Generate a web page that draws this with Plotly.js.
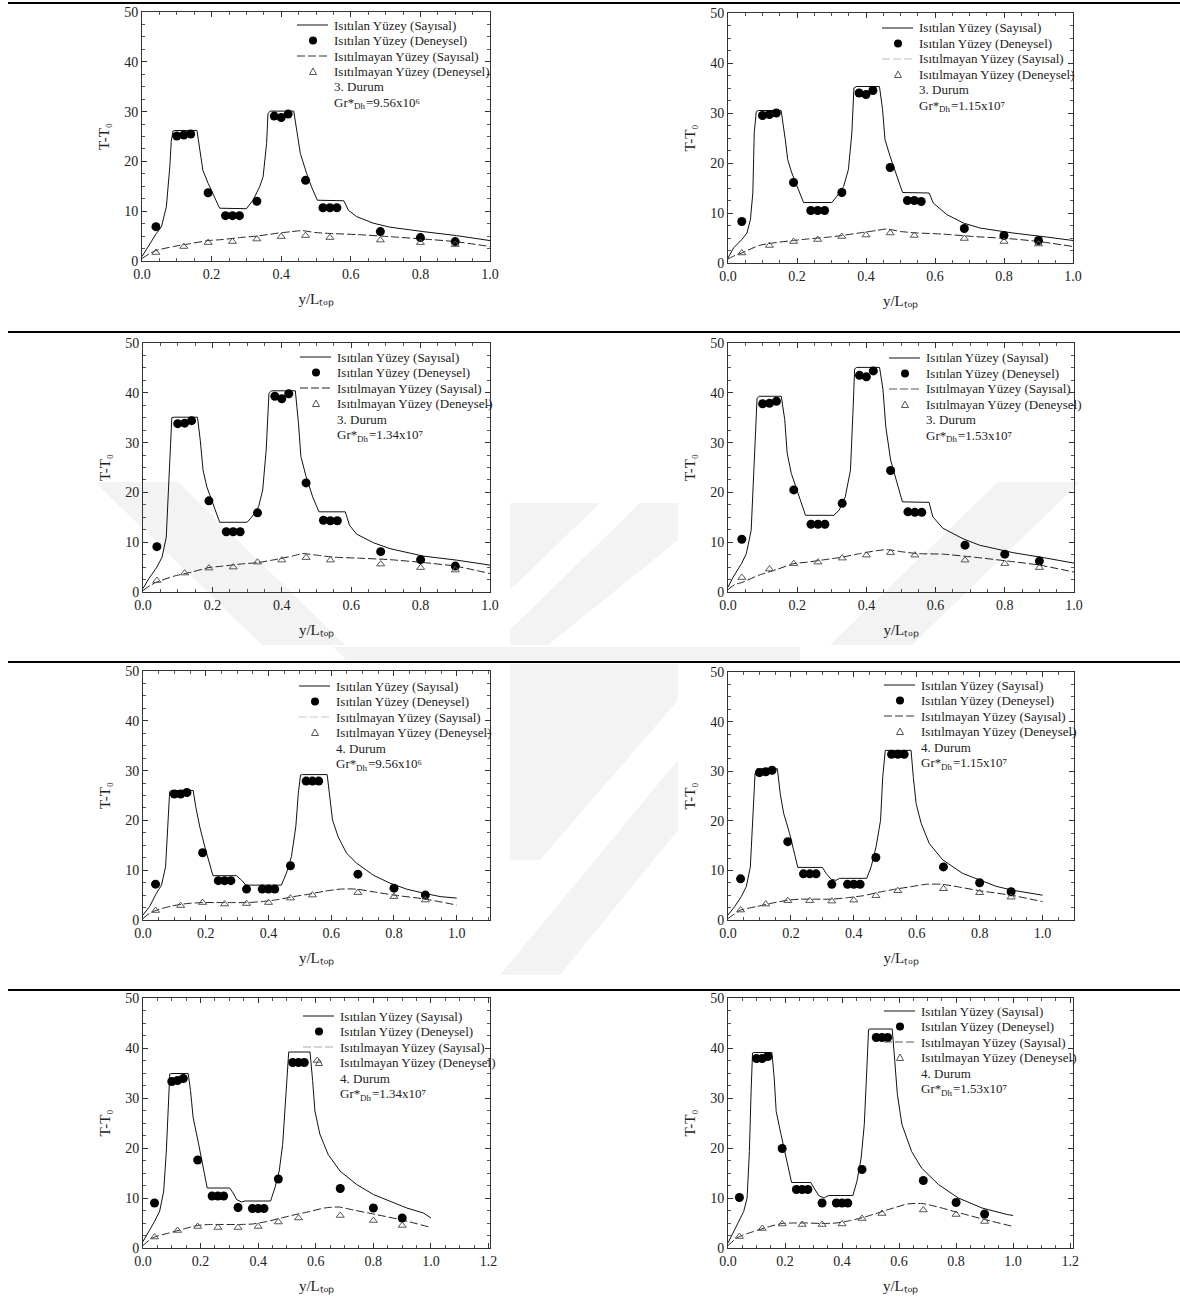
<!DOCTYPE html>
<html><head><meta charset="utf-8">
<script src="https://cdn.plot.ly/plotly-3.0.1.min.js"></script>
<style>html,body{margin:0;padding:0;background:#fff}#chart{width:1180px;height:1300px}</style>
</head><body><div id="chart"></div>
<script>
// ---- data ----
// measurement stations along the heated wall (y/L_top)
const xHeatedExp = [0.04, 0.10, 0.12, 0.14, 0.19, 0.24, 0.26, 0.28, 0.33, 0.38, 0.40, 0.42, 0.47, 0.52, 0.54, 0.56, 0.685, 0.80, 0.90];
// measurement stations along the unheated wall
const xUnheatedExp = [0.04, 0.12, 0.19, 0.26, 0.33, 0.40, 0.47, 0.54, 0.685, 0.80, 0.90];
// numerical solution abscissae, unheated wall
const xUnheatedNum3 = [0, 0.02, 0.04, 0.09, 0.14, 0.19, 0.23, 0.28, 0.33, 0.38, 0.43, 0.46, 0.50, 0.55, 0.62, 0.71, 0.81, 0.90, 1.0];
const xUnheatedNum4 = [0, 0.02, 0.04, 0.09, 0.14, 0.19, 0.23, 0.28, 0.33, 0.38, 0.43, 0.48, 0.53, 0.58, 0.63, 0.68, 0.73, 0.80, 0.90, 1.0];

// heated wall, numerical (x, T-T0) for each case
const heatX1 = [0, 0.017, 0.041, 0.056, 0.07, 0.08, 0.084, 0.089, 0.095, 0.158, 0.166, 0.175, 0.19, 0.223, 0.30, 0.319, 0.338, 0.348, 0.358, 0.362, 0.368, 0.436, 0.449, 0.455, 0.473, 0.487, 0.504, 0.58, 0.593, 0.617, 0.664, 0.712, 0.808, 0.904, 1.0];
const heatY1 = [0.9, 2.9, 5.5, 6.9, 10.9, 19, 24, 26.1, 26.2, 26.2, 22.3, 18.2, 15.6, 10.6, 10.5, 12.2, 14.9, 16.9, 23.6, 29.6, 30.1, 30.1, 24.3, 21.6, 17.6, 14.9, 12.2, 12.1, 10.2, 8.9, 7.6, 6.8, 5.9, 5.1, 4.1];
const heatX2 = [0, 0.016, 0.04, 0.055, 0.065, 0.072, 0.076, 0.082, 0.088, 0.154, 0.166, 0.173, 0.185, 0.219, 0.301, 0.315, 0.335, 0.349, 0.359, 0.365, 0.372, 0.439, 0.448, 0.455, 0.47, 0.489, 0.506, 0.583, 0.595, 0.634, 0.682, 0.73, 0.826, 0.923, 1.0];
const heatY2 = [1.0, 3, 4.7, 6, 8.7, 14, 26, 30.3, 30.5, 30.5, 24.7, 20.7, 18, 12.1, 12.1, 13.3, 15.3, 18.7, 26, 35, 35.3, 35.3, 30.7, 24.7, 21.3, 17.3, 14.1, 14.0, 12, 9.7, 8, 7, 6, 5.2, 4.5];
const heatX3 = [0, 0.017, 0.04, 0.055, 0.067, 0.074, 0.079, 0.083, 0.09, 0.157, 0.165, 0.173, 0.184, 0.221, 0.30, 0.314, 0.333, 0.345, 0.355, 0.363, 0.37, 0.439, 0.448, 0.455, 0.47, 0.489, 0.507, 0.583, 0.595, 0.616, 0.664, 0.712, 0.808, 0.904, 1.0];
const heatY3 = [0.7, 2.7, 5, 7, 11, 20.5, 29.9, 35, 35.1, 35.1, 30.5, 24.5, 21.1, 14, 14, 15.1, 17.1, 20.5, 28.5, 39.9, 40.4, 40.4, 33.9, 27.2, 23.2, 19.1, 16.1, 16.1, 13.4, 11.6, 9.9, 8.7, 7.2, 6.4, 5.4];
const heatX4 = [0, 0.015, 0.039, 0.053, 0.067, 0.074, 0.08, 0.084, 0.09, 0.154, 0.164, 0.171, 0.183, 0.224, 0.306, 0.321, 0.339, 0.354, 0.361, 0.366, 0.372, 0.438, 0.448, 0.456, 0.47, 0.488, 0.504, 0.581, 0.592, 0.621, 0.679, 0.727, 0.824, 0.92, 1.0];
const heatY4 = [1, 3, 5.7, 7.7, 12.4, 22.5, 33.9, 38.9, 39.3, 39.3, 34.6, 27.9, 23.8, 15.4, 15.4, 16.4, 19.1, 24.5, 35.9, 44.8, 45.1, 45.1, 40.6, 33.2, 26.5, 21.8, 18.1, 18, 15.1, 12.8, 10.7, 9.4, 7.9, 6.8, 5.8];
const heatX5 = [0, 0.021, 0.043, 0.059, 0.072, 0.08, 0.085, 0.09, 0.16, 0.168, 0.181, 0.197, 0.223, 0.298, 0.314, 0.328, 0.441, 0.457, 0.473, 0.487, 0.495, 0.502, 0.508, 0.587, 0.596, 0.604, 0.622, 0.649, 0.681, 0.734, 0.787, 0.84, 0.894, 0.947, 1.0];
const heatY5 = [1, 2.7, 5.4, 7, 10.7, 20.1, 25.8, 26, 26, 22.8, 18.7, 14.7, 8.9, 8.9, 8.0, 7.0, 7.0, 9.4, 12.7, 18.7, 25.4, 29.1, 29.2, 29.2, 24.1, 20.1, 16.7, 13.4, 11.4, 9, 7.4, 6.2, 5.4, 4.7, 4.4];
const heatX6 = [0, 0.021, 0.042, 0.058, 0.071, 0.079, 0.086, 0.092, 0.157, 0.166, 0.177, 0.196, 0.222, 0.30, 0.312, 0.328, 0.344, 0.354, 0.441, 0.455, 0.471, 0.485, 0.492, 0.50, 0.582, 0.589, 0.598, 0.614, 0.64, 0.683, 0.746, 0.799, 0.852, 0.905, 0.958, 1.0];
const heatY6 = [1, 2.7, 4.7, 6.7, 10.7, 20.1, 29.5, 30.5, 30.5, 25.5, 21.5, 17.4, 10.6, 10.6, 9.4, 8.2, 8.0, 8.4, 8.4, 10.7, 14.8, 20.1, 28.9, 34.2, 34.2, 28.9, 23.5, 19.5, 15.4, 12.1, 9.4, 8.1, 6.8, 6, 5.4, 5];
const heatX7 = [0, 0.017, 0.041, 0.058, 0.072, 0.081, 0.089, 0.093, 0.098, 0.157, 0.165, 0.174, 0.191, 0.223, 0.301, 0.313, 0.325, 0.342, 0.354, 0.443, 0.458, 0.473, 0.485, 0.493, 0.501, 0.506, 0.512, 0.58, 0.589, 0.597, 0.614, 0.643, 0.684, 0.742, 0.80, 0.858, 0.916, 0.974, 1.0];
const heatY7 = [1.3, 3, 5.4, 7.4, 11.4, 19.4, 30.8, 34.8, 34.9, 34.9, 31.5, 26.1, 21.4, 12, 12, 11, 9.7, 9.2, 9.4, 9.4, 12, 15.4, 20.7, 27.4, 34.1, 39.2, 39.2, 39.2, 33.5, 27.4, 22.8, 18.7, 15.4, 12.7, 10.7, 9.4, 8, 7, 6];
const heatX8 = [0, 0.02, 0.038, 0.055, 0.067, 0.075, 0.081, 0.086, 0.092, 0.154, 0.162, 0.169, 0.186, 0.217, 0.223, 0.29, 0.302, 0.318, 0.337, 0.352, 0.438, 0.452, 0.467, 0.478, 0.487, 0.493, 0.499, 0.576, 0.585, 0.594, 0.61, 0.644, 0.679, 0.738, 0.808, 0.891, 0.979, 1.0];
const heatY8 = [1, 3.3, 5.2, 7.3, 10, 19.3, 31.3, 39, 39.1, 39.1, 34, 27.3, 22.7, 15, 13.1, 13.1, 12, 10.5, 10, 10.5, 10.5, 13.3, 18, 24.7, 36, 43.7, 43.8, 43.8, 37.3, 30.7, 24.7, 19.3, 16, 12.7, 10, 8, 6.7, 6.5];

// unheated wall, numerical
const unheatY1 = [0.5, 1.4, 2.1, 2.9, 3.5, 4.1, 4.3, 4.7, 5.0, 5.5, 5.9, 6.1, 5.7, 5.5, 5.3, 4.9, 4.4, 3.9, 2.9];
const unheatY2 = [0.8, 1.5, 2.0, 3.5, 4.1, 4.5, 4.8, 5.1, 5.5, 6.0, 6.5, 6.8, 6.3, 6.0, 5.8, 5.3, 4.9, 4.3, 3.3];
const unheatY3 = [0.3, 1.3, 2.0, 3.2, 4.0, 4.9, 5.2, 5.6, 5.9, 6.5, 7.2, 7.7, 7.4, 7.0, 6.8, 6.5, 5.9, 5.2, 3.7];
const unheatY4 = [0.5, 1.5, 1.9, 3.4, 4.5, 5.7, 6.0, 6.5, 7.0, 7.7, 8.3, 8.5, 8.1, 7.7, 7.6, 7.0, 6.2, 5.4, 4.0];
const unheatY5 = [0.3, 1.3, 1.9, 2.8, 3.3, 3.5, 3.5, 3.5, 3.5, 3.7, 4.1, 4.7, 5.2, 5.8, 6.2, 6.2, 5.7, 5.0, 4.2, 3.0];
const unheatY6 = [0.3, 1.2, 2.0, 2.7, 3.4, 4.0, 4.2, 4.2, 4.2, 4.5, 4.9, 5.6, 6.2, 6.7, 7.2, 7.2, 6.7, 5.9, 5.0, 3.7];
const unheatY7 = [0.5, 1.5, 2.2, 3.0, 3.8, 4.5, 4.7, 4.7, 4.7, 4.8, 5.3, 6.0, 6.7, 7.3, 8.0, 8.2, 7.6, 6.8, 5.6, 4.1];
const unheatY8 = [0.5, 1.5, 2.3, 3.3, 4.2, 4.9, 5.0, 5.0, 4.9, 5.0, 5.5, 6.2, 7.1, 8.0, 8.8, 8.9, 8.3, 7.2, 5.7, 4.3];

// heated wall, experimental
const expHeat1 = [6.9, 25.1, 25.3, 25.5, 13.7, 9.1, 9.1, 9.1, 12.0, 29.1, 28.8, 29.5, 16.2, 10.7, 10.7, 10.7, 5.9, 4.7, 3.9];
const expHeat2 = [8.3, 29.5, 29.7, 30.0, 16.1, 10.5, 10.5, 10.5, 14.1, 34.0, 33.7, 34.5, 19.1, 12.5, 12.5, 12.3, 6.9, 5.5, 4.5];
const expHeat3 = [9.1, 33.8, 33.9, 34.4, 18.3, 12.1, 12.1, 12.1, 15.9, 39.3, 38.8, 39.8, 21.9, 14.4, 14.3, 14.3, 8.1, 6.5, 5.2];
const expHeat4 = [10.6, 37.8, 37.9, 38.3, 20.5, 13.6, 13.6, 13.6, 17.8, 43.5, 43.2, 44.4, 24.4, 16.1, 16.0, 16.0, 9.4, 7.6, 6.2];
const expHeat5 = [7.2, 25.3, 25.3, 25.6, 13.5, 7.9, 7.9, 7.9, 6.2, 6.2, 6.2, 6.2, 10.9, 27.9, 27.9, 27.9, 9.2, 6.4, 5.0];
const expHeat6 = [8.3, 29.7, 29.9, 30.2, 15.8, 9.3, 9.3, 9.3, 7.2, 7.2, 7.2, 7.2, 12.6, 33.4, 33.4, 33.4, 10.7, 7.5, 5.7];
const expHeat7 = [9.0, 33.3, 33.5, 33.9, 17.6, 10.4, 10.4, 10.4, 8.1, 7.9, 7.9, 7.9, 13.8, 37.1, 37.1, 37.1, 11.9, 8.0, 6.0];
const expHeat8 = [10.1, 37.9, 37.9, 38.3, 19.9, 11.7, 11.7, 11.7, 9.0, 9.0, 9.0, 9.0, 15.7, 42.1, 42.1, 42.1, 13.5, 9.1, 6.8];

// unheated wall, experimental
const expUnheat1 = [1.7, 2.9, 3.7, 3.9, 4.4, 4.9, 5.1, 4.7, 4.2, 3.7, 3.3];
const expUnheat2 = [2.0, 3.5, 4.3, 4.7, 5.3, 5.6, 6.0, 5.5, 4.9, 4.3, 3.8];
const expUnheat3 = [2.3, 3.8, 4.8, 5.0, 6.0, 6.4, 6.9, 6.4, 5.6, 4.9, 4.4];
const expUnheat4 = [2.9, 4.6, 5.7, 6.0, 6.8, 7.4, 7.9, 7.4, 6.4, 5.7, 4.9];
const expUnheat5 = [1.9, 2.9, 3.5, 3.2, 3.3, 3.5, 4.4, 5.0, 5.5, 4.7, 4.0];
const expUnheat6 = [2.0, 3.2, 3.9, 3.9, 3.8, 4.0, 4.9, 5.9, 6.3, 5.5, 4.6];
const expUnheat7 = [2.2, 3.5, 4.3, 4.1, 4.1, 4.3, 5.2, 6.0, 6.5, 5.5, 4.5];
const expUnheat8 = [2.3, 3.9, 4.8, 4.7, 4.7, 4.8, 5.9, 6.9, 7.6, 6.7, 5.3];
// stray unheated-wall reading in the 4. Durum, Gr*=1.34x10^7 set
const strayUnheatX7 = [0.605];
const strayUnheatY7 = [37.5];

const caseLabels = ['3. Durum', '3. Durum', '3. Durum', '3. Durum', '4. Durum', '4. Durum', '4. Durum', '4. Durum'];
const grValues = ['=9.56x10\u2076', '=1.15x10\u2077', '=1.34x10\u2077', '=1.53x10\u2077',
                  '=9.56x10\u2076', '=1.15x10\u2077', '=1.34x10\u2077', '=1.53x10\u2077'];
const seriesNames = ['Isıtılan Yüzey (Sayısal)', 'Isıtılan Yüzey (Deneysel)', 'Isıtılmayan Yüzey (Sayısal)', 'Isıtılmayan Yüzey (Deneysel)'];
const yTickVals = [0, 10, 20, 30, 40, 50];
const yTitle = 'T-T\u2080';
const xTitle = 'y/L\u209C\u2092\u209A';

// ---- page geometry ----
const W = 1180, H = 1300;
const FONT = 'Liberation Serif, Times New Roman, serif';
const X = px => px / W;
const Y = py => 1 - py / H;

// text width helper for composing the Gr*_Dh label
const ctx = document.createElement('canvas').getContext('2d');
function textWidth(str, size) {
  ctx.font = size + 'px "Liberation Serif", serif';
  return ctx.measureText(str).width;
}

// plot boxes [left, right, top, bottom] in pixels
const boxes = [
  [142, 490, 12, 261], [728, 1073, 13, 263],
  [143, 490, 343, 592], [728, 1074, 343, 592],
  [143, 490, 671, 920], [728, 1074, 672, 920],
  [143, 490, 998, 1248], [728, 1073, 998, 1248]
];
const xMax = [1, 1, 1, 1, 1.106, 1.10, 1.205, 1.21];
const xTickMax = [1, 1, 1, 1, 1, 1, 1.2, 1.2];
// legend anchor: left edge of legend text, centre of first row
const legendAt = [[334, 25], [919, 28], [337, 357], [926, 358], [336, 686], [921, 685], [340, 1016], [921, 1011]];
const dashSampleColor = ['#333', '#bbb', '#222', '#555', '#c8c8c8', '#333', '#aaa', '#555'];

const heatX = [heatX1, heatX2, heatX3, heatX4, heatX5, heatX6, heatX7, heatX8];
const heatY = [heatY1, heatY2, heatY3, heatY4, heatY5, heatY6, heatY7, heatY8];
const unheatY = [unheatY1, unheatY2, unheatY3, unheatY4, unheatY5, unheatY6, unheatY7, unheatY8];
const expHeat = [expHeat1, expHeat2, expHeat3, expHeat4, expHeat5, expHeat6, expHeat7, expHeat8];
const expUnheat = [expUnheat1, expUnheat2, expUnheat3, expUnheat4, expUnheat5, expUnheat6, expUnheat7, expUnheat8];

const traces = [];
const layout = {
  width: W, height: H,
  margin: {l: 0, r: 0, t: 0, b: 0},
  paper_bgcolor: '#fff', plot_bgcolor: 'rgba(0,0,0,0)',
  showlegend: false,
  font: {family: FONT, size: 13, color: '#222'},
  shapes: [], annotations: []
};

// faint page emblem behind the figures (pixel polygons)
const emblem = [
  [[95, 482], [178, 482], [345, 645], [262, 645]],
  [[510, 503], [600, 503], [510, 590]],
  [[640, 503], [678, 503], [678, 540], [548, 645], [510, 645], [510, 630]],
  [[333, 647], [800, 647], [800, 660], [346, 660]],
  [[510, 664], [678, 664], [678, 700], [540, 860], [510, 860]],
  [[678, 760], [678, 830], [560, 975], [500, 975]],
  [[830, 645], [912, 645], [1080, 482], [998, 482]]
];
emblem.forEach(poly => {
  const d = poly.map((p, k) => (k ? 'L ' : 'M ') + X(p[0]) + ' ' + Y(p[1])).join(' ') + ' Z';
  layout.shapes.push({type: 'path', xref: 'paper', yref: 'paper', path: d, fillcolor: '#f3f3f3',
    line: {width: 0}, layer: 'below'});
});

// table rules between the rows
[3, 332, 662, 990].forEach(py => {
  layout.shapes.push({type: 'line', xref: 'paper', yref: 'paper', x0: X(8), x1: X(1180), y0: Y(py), y1: Y(py),
    line: {color: '#000', width: 2}, layer: 'above'});
});

function note(px, py, text, size, extra) {
  return Object.assign({xref: 'paper', yref: 'paper', x: X(px), y: Y(py), xanchor: 'left', yanchor: 'middle',
    text: text, showarrow: false, borderpad: 0, borderwidth: 0,
    font: {family: FONT, size: size, color: '#222'}}, extra || {});
}

for (let i = 0; i < 8; i++) {
  const s = i === 0 ? '' : String(i + 1);
  const xa = 'x' + s, ya = 'y' + s;
  const [l, r, t, b] = boxes[i];
  const xUn = i < 4 ? xUnheatedNum3 : xUnheatedNum4;
  const triX = i === 6 ? xUnheatedExp.concat(strayUnheatX7) : xUnheatedExp;
  const triY = i === 6 ? expUnheat[i].concat(strayUnheatY7) : expUnheat[i];

  traces.push({x: heatX[i], y: heatY[i], name: seriesNames[0], mode: 'lines', xaxis: xa, yaxis: ya,
    line: {color: '#111', width: 1}, hoverinfo: 'x+y'});
  traces.push({x: xUn, y: unheatY[i], name: seriesNames[2], mode: 'lines', xaxis: xa, yaxis: ya,
    line: {color: '#222', width: 1, dash: '8px,3px', shape: 'spline', smoothing: 0.6}, hoverinfo: 'x+y'});
  traces.push({x: xHeatedExp, y: expHeat[i], name: seriesNames[1], mode: 'markers', xaxis: xa, yaxis: ya,
    marker: {symbol: 'circle', size: 9, color: '#000'}, hoverinfo: 'x+y'});
  traces.push({x: triX, y: triY, name: seriesNames[3], mode: 'markers', xaxis: xa, yaxis: ya,
    marker: {symbol: 'triangle-up-open', size: 7, color: '#555', line: {width: 1, color: '#555'}}, hoverinfo: 'x+y'});

  const xTicks = [];
  for (let v = 0; v <= xTickMax[i] + 1e-9; v += 0.2) xTicks.push(+v.toFixed(1));

  const axCommon = {
    showline: true, linecolor: '#333', linewidth: 1, mirror: 'allticks',
    ticks: 'inside', ticklen: 5, tickcolor: '#333', tickwidth: 1,
    showgrid: false, zeroline: false, fixedrange: true,
    tickfont: {family: FONT, size: 14, color: '#222'}
  };
  layout['xaxis' + s] = Object.assign({}, axCommon, {
    domain: [X(l), X(r)], anchor: ya, range: [0, xMax[i]],
    tickvals: xTicks, ticktext: xTicks.map(v => v.toFixed(1)),
    minor: {ticks: 'inside', ticklen: 3, tickcolor: '#555', dtick: 0.05, tick0: 0},
    title: {text: xTitle, font: {family: FONT, size: 15, color: '#222'}, standoff: 12}
  });
  layout['yaxis' + s] = Object.assign({}, axCommon, {
    domain: [Y(b), Y(t)], anchor: xa, range: [0, 50],
    tickvals: yTickVals,
    minor: {ticks: 'inside', ticklen: 3, tickcolor: '#555', dtick: 2.5, tick0: 0},
    title: {text: yTitle, font: {family: FONT, size: 15, color: '#222'}, standoff: 10}
  });

  // legend block drawn inside the plot
  const [tx, ty] = legendAt[i];
  const rowH = 15.5;
  const cx = tx - 21;
  const rows = [ty, ty + rowH, ty + 2 * rowH, ty + 3 * rowH];
  layout.shapes.push({type: 'line', xref: 'paper', yref: 'paper', x0: X(tx - 37), x1: X(tx - 6), y0: Y(rows[0]), y1: Y(rows[0]),
    line: {color: '#111', width: 1}});
  layout.shapes.push({type: 'circle', xref: 'paper', yref: 'paper', x0: X(cx - 4), x1: X(cx + 4), y0: Y(rows[1] + 4), y1: Y(rows[1] - 4),
    fillcolor: '#000', line: {width: 0}});
  layout.shapes.push({type: 'line', xref: 'paper', yref: 'paper', x0: X(tx - 37), x1: X(tx - 6), y0: Y(rows[2]), y1: Y(rows[2]),
    line: {color: dashSampleColor[i], width: 1, dash: '8px,3px'}});
  layout.shapes.push({type: 'path', xref: 'paper', yref: 'paper',
    path: `M ${X(cx - 3.5)} ${Y(rows[3] + 3)} L ${X(cx + 3.5)} ${Y(rows[3] + 3)} L ${X(cx)} ${Y(rows[3] - 3.5)} Z`,
    line: {color: '#555', width: 1}});
  seriesNames.concat([caseLabels[i]]).forEach((txt, k) => {
    layout.annotations.push(note(tx, ty + k * rowH, txt, 13));
  });
  // Gr*_Dh = value, composed from three pieces
  const grY = ty + 5 * rowH;
  const w1 = textWidth('Gr*', 13);
  const w2 = textWidth('Dh', 9);
  layout.annotations.push(note(tx, grY, 'Gr*', 13));
  layout.annotations.push(note(tx + w1, grY + 4, 'Dh', 9));
  layout.annotations.push(note(tx + w1 + w2 + 0.5, grY, grValues[i], 13));
}

Plotly.newPlot('chart', traces, layout, {displayModeBar: false});
</script></body></html>
